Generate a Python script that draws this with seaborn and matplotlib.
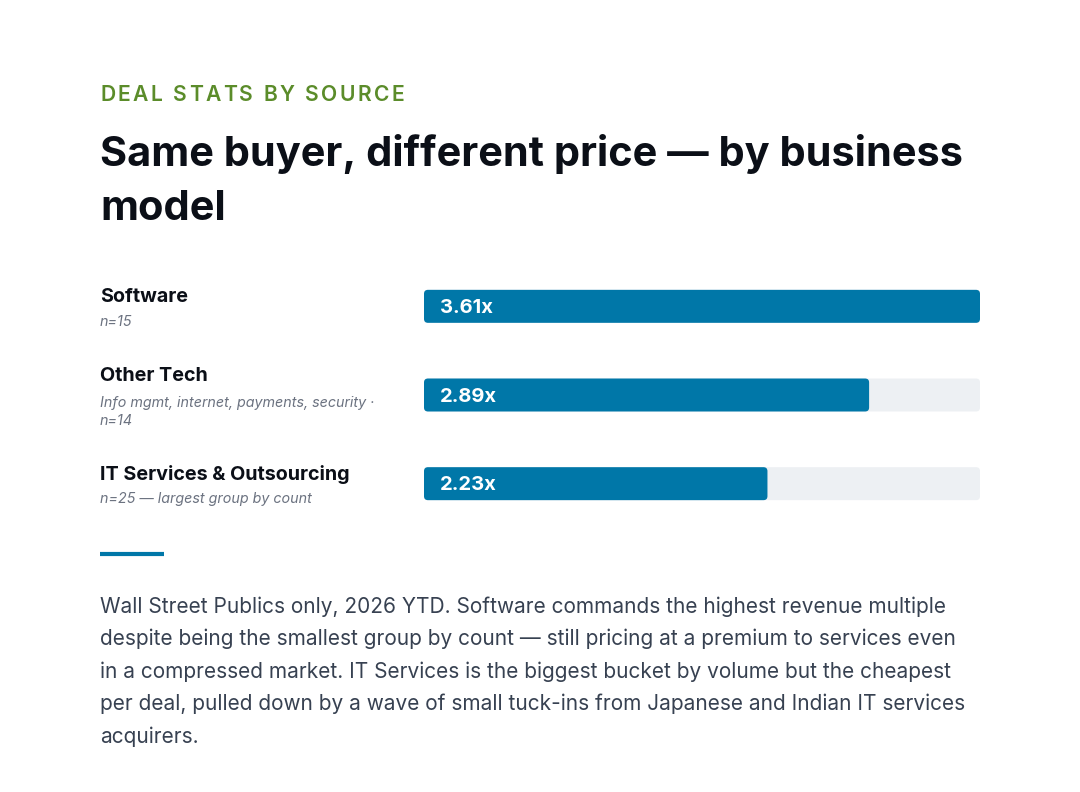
import matplotlib
matplotlib.use("Agg")
import matplotlib.pyplot as plt
import seaborn as sns
import pandas as pd
from matplotlib.patches import FancyBboxPatch

categories = ["Software", "Other Tech", "IT Services & Outsourcing"]
multiples = [3.61, 2.89, 2.23]
subtitles = [["n=15"], ["Info mgmt, internet, payments, security ·", "n=14"], ["n=25 — largest group by count"]]
value_labels = ["3.61x", "2.89x", "2.23x"]

kicker = "DEAL STATS BY SOURCE"
headline = ["Same buyer, different price — by business", "model"]
body = [
    "Wall Street Publics only, 2026 YTD. Software commands the highest revenue multiple",
    "despite being the smallest group by count — still pricing at a premium to services even",
    "in a compressed market. IT Services is the biggest bucket by volume but the cheapest",
    "per deal, pulled down by a wave of small tuck-ins from Japanese and Indian IT services",
    "acquirers.",
]

BLUE = "#0077a8"
TRACK = "#edf0f3"
GREEN = "#5b8c2a"
INK = "#0b0f17"
GREY = "#6b7280"
BODY = "#374151"

sns.set_theme(style="white")
plt.rcParams["font.family"] = ["Inter", "DejaVu Sans"]

W, H = 1080, 792
fig = plt.figure(figsize=(W / 100, H / 100), dpi=100)
fig.patch.set_facecolor("white")


def fx(px):
    return px / W


def fy(py):
    return 1 - py / H


df = pd.DataFrame({"category": categories, "multiple": multiples})
df["track"] = max(multiples)

ax = fig.add_axes([fx(424), fy(528), fx(980) - fx(424), (528 - 262) / H])
sns.barplot(data=df, x="track", y="category", color=TRACK, width=0.372, ax=ax, saturation=1)
sns.barplot(data=df, x="multiple", y="category", color=BLUE, width=0.372, ax=ax, saturation=1)
ax.set_xlim(0, max(multiples))
ax.set_ylim(2.5, -0.5)
ax.axis("off")

# swap plain rectangles for rounded ones
xpp = max(multiples) / 556
ypp = 3 / 266
for p in list(ax.patches):
    x0, y0, w, h = p.get_x(), p.get_y(), p.get_width(), p.get_height()
    rb = FancyBboxPatch((x0, y0), w, h,
                        boxstyle=f"round,pad=0,rounding_size={4 * xpp}",
                        mutation_aspect=ypp / xpp,
                        facecolor=p.get_facecolor(), edgecolor="none", zorder=p.get_zorder())
    p.set_visible(False)
    ax.add_patch(rb)

for i, lab in enumerate(value_labels):
    ax.text(16 * xpp, i + 1.5 * ypp, lab, color="white", fontsize=14.5, fontweight="bold",
            va="center", ha="left")

# left labels
name_base = [302.5, 381.5, 479.5]
sub_base = [326.5, 406.5, 503.5]
for name, sub, nb, sb in zip(categories, subtitles, name_base, sub_base):
    fig.text(fx(100), fy(nb), name, fontsize=14.2, fontweight="bold", color=INK, va="baseline")
    for j, line in enumerate(sub):
        fig.text(fx(100), fy(sb + 18.5 * j), line, fontsize=10.3, style="italic", color=GREY,
                 va="baseline")

# kicker with letter spacing
renderer = fig.canvas.get_renderer()
xpos = 100
for ch in kicker:
    t = fig.text(fx(xpos), fy(101), ch, fontsize=15.2, fontweight="semibold", color=GREEN,
                 va="baseline")
    if ch == " ":
        adv = 6
    else:
        adv = t.get_window_extent(renderer).width
    xpos += adv + 2.3

for line, base in zip(headline, [166.5, 220]):
    fig.text(fx(100), fy(base), line, fontsize=29.9, fontweight="bold", color=INK, va="baseline")

# accent rule
fig.add_artist(plt.Line2D([fx(100), fx(164)], [fy(554), fy(554)], color=BLUE, lw=3,
                          solid_capstyle="butt"))

for k, line in enumerate(body):
    fig.text(fx(100), fy(612.7 + 32.5 * k), line, fontsize=15.0, color=BODY, va="baseline")

fig.savefig("out.png", dpi=100, facecolor="white")
